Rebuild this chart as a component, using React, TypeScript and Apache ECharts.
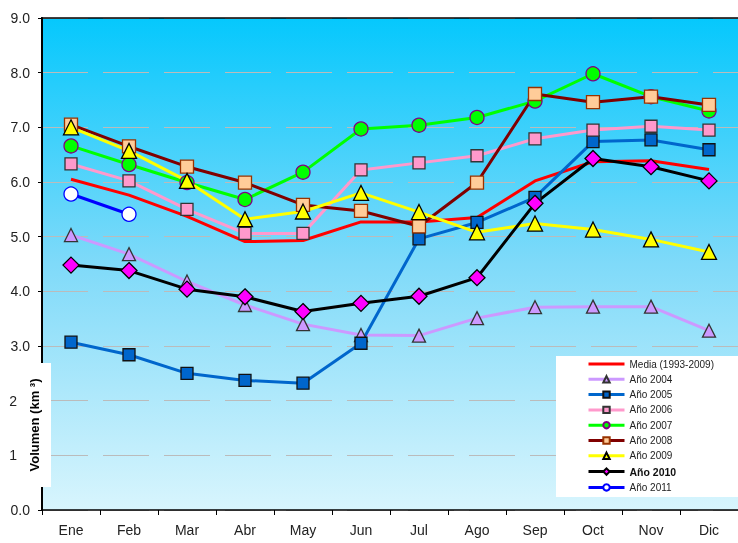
import React, { useEffect, useRef } from "react";
import * as echarts from "echarts";

const months = ["Ene", "Feb", "Mar", "Abr", "May", "Jun", "Jul", "Ago", "Sep", "Oct", "Nov", "Dic"];
const yTicks = [0, 1, 2, 3, 4, 5, 6, 7, 8, 9];
const media = [6.05, 5.76, 5.37, 4.91, 4.93, 5.27, 5.27, 5.35, 6.02, 6.37, 6.39, 6.23];
const y2004 = [5.03, 4.68, 4.18, 3.75, 3.4, 3.2, 3.19, 3.51, 3.71, 3.72, 3.72, 3.28];
const y2005 = [3.07, 2.84, 2.5, 2.37, 2.32, 3.05, 4.96, 5.26, 5.72, 6.74, 6.77, 6.59];
const y2006 = [6.33, 6.02, 5.5, 5.06, 5.06, 6.22, 6.35, 6.48, 6.79, 6.95, 7.02, 6.95];
const y2007 = [6.66, 6.32, 5.99, 5.68, 6.18, 6.97, 7.04, 7.18, 7.48, 7.98, 7.56, 7.3];
const y2008 = [7.05, 6.65, 6.28, 5.99, 5.58, 5.47, 5.19, 5.99, 7.61, 7.46, 7.56, 7.41];
const y2009 = [7.0, 6.57, 6.02, 5.32, 5.46, 5.8, 5.45, 5.08, 5.24, 5.13, 4.95, 4.72];
const y2010 = [4.48, 4.38, 4.04, 3.9, 3.63, 3.78, 3.91, 4.25, 5.61, 6.43, 6.28, 6.02];
const y2011 = [5.78, 5.41];

const FONT = "'Liberation Sans', Arial, sans-serif";

function mk(name: string, data: number[], lineColor: string, symbol: string, size: number, fill: string, border: string, width = 3) {
  return {
    name,
    type: "line",
    data,
    symbol: symbol === "none" ? "none" : symbol,
    symbolSize: size,
    showSymbol: symbol !== "none",
    lineStyle: { color: lineColor, width },
    itemStyle: { color: fill, borderColor: border, borderWidth: 1.3 },
    emphasis: { disabled: true },
  };
}

export default function App() {
  const ref = useRef<HTMLDivElement>(null);
  useEffect(() => {
    if (!ref.current) return;
    const chart = echarts.init(ref.current, undefined, { renderer: "svg" });
    const series = [
      mk("Media (1993-2009)", media, "#FF0000", "none", 0, "#FF0000", "#FF0000"),
      mk("Año 2004", y2004, "#CC99FF", "triangle", 13, "#CC99FF", "#333333"),
      mk("Año 2005", y2005, "#0066CC", "rect", 12, "#0066CC", "#111111"),
      mk("Año 2006", y2006, "#FF99CC", "rect", 12, "#FF99CC", "#333333"),
      mk("Año 2007", y2007, "#00FF00", "circle", 14, "#00FF00", "#800080"),
      mk("Año 2008", y2008, "#800000", "rect", 13, "#FFCC99", "#993300"),
      mk("Año 2009", y2009, "#FFFF00", "triangle", 15, "#FFFF00", "#000000"),
      mk("Año 2010", y2010, "#000000", "diamond", 16, "#FF00FF", "#000000"),
      mk("Año 2011", y2011, "#0000FF", "circle", 14, "#FFFFFF", "#0000FF"),
    ];
    chart.setOption({
      animation: false,
      textStyle: { fontFamily: FONT },
      grid: {
        left: 42,
        top: 18,
        right: -5,
        bottom: 33,
        show: true,
        borderWidth: 0,
        backgroundColor: new echarts.graphic.LinearGradient(0, 0, 0, 1, [
          { offset: 0, color: "#05C8FD" },
          { offset: 0.5, color: "#7FDAF9" },
          { offset: 1, color: "#D8F5FD" },
        ]),
      },
      xAxis: {
        type: "category",
        data: months,
        boundaryGap: true,
        axisLine: { lineStyle: { color: "#000", width: 1.5 } },
        axisTick: { show: true, length: 5, lineStyle: { color: "#000" } },
        axisLabel: { fontSize: 14, color: "#222", margin: 13, fontFamily: FONT },
      },
      yAxis: {
        type: "value",
        min: yTicks[0],
        max: yTicks[yTicks.length - 1],
        interval: 1,
        axisLine: { show: true, lineStyle: { color: "#000", width: 2 } },
        axisTick: { show: true, length: 4, lineStyle: { color: "#000" } },
        axisLabel: {
          fontSize: 14,
          color: "#222",
          margin: 12,
          fontFamily: FONT,
          formatter: (v: number) => (v === 1 || v === 2 ? `{n|${v}}` : v.toFixed(1)),
          rich: { n: { fontSize: 14, color: "#222", padding: [0, 13, 0, 0], fontFamily: FONT } },
        },
        splitLine: { show: true, lineStyle: { color: "#BBBBBB", type: [46, 15], width: 1 } },
      },
      legend: {
        orient: "vertical",
        left: 587,
        top: 359,
        padding: 0,
        itemWidth: 36,
        itemHeight: 8,
        itemGap: 5.3,
        z: 60,
        lineStyle: { width: 3 },
        textStyle: { fontSize: 10, color: "#222", fontFamily: FONT },
        data: series.map((s) => {
          if (s.name === "Año 2010") {
            return { name: s.name, textStyle: { fontWeight: "bold", fontSize: 10.5, color: "#111" } };
          }
          if (s.name === "Media (1993-2009)") {
            return { name: s.name, itemStyle: { opacity: 0 }, lineStyle: { opacity: 1, color: "#FF0000", width: 3 } };
          }
          return { name: s.name };
        }),
      },
      graphic: [
        { type: "line", z: 40, shape: { x1: 41, y1: 18, x2: 738, y2: 18 }, style: { stroke: "#000", lineWidth: 1.5 } },
        { type: "rect", z: 50, shape: { x: 556, y: 356, width: 182, height: 141 }, style: { fill: "#FFFFFF" } },
        { type: "rect", z: 50, shape: { x: 18, y: 363, width: 33, height: 124 }, style: { fill: "#FFFFFF" } },
        {
          type: "text",
          z: 51,
          x: 34,
          y: 425,
          rotation: Math.PI / 2,
          style: {
            text: "Volumen (km ³)",
            fontSize: 13,
            fontWeight: "bold",
            fontFamily: FONT,
            fill: "#000",
            align: "center",
            verticalAlign: "middle",
          },
        },
      ],
      series,
    });
    return () => chart.dispose();
  }, []);
  return <div ref={ref} style={{ position: "fixed", left: 0, top: 0, width: 738, height: 543 }} />;
}
